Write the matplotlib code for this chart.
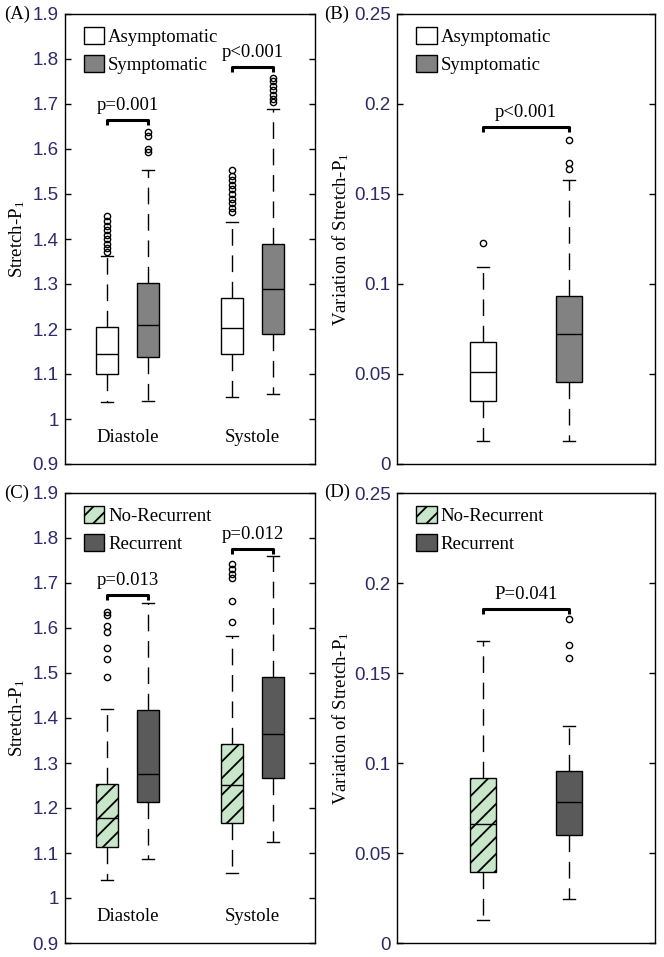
import numpy as np
import matplotlib
matplotlib.use("Agg")
import matplotlib.pyplot as plt
from matplotlib.patches import Patch
from matplotlib.ticker import FormatStrFormatter

plt.rcParams['font.family'] = ['Liberation Serif', 'DejaVu Serif']
plt.rcParams['mathtext.fontset'] = 'stix'
plt.rcParams['hatch.linewidth'] = 1.3

## box statistics (q1, median, q3, lower whisker, upper whisker, outliers)

# (A) stretch, asymptomatic vs symptomatic: Dia-Asym, Dia-Sym, Sys-Asym, Sys-Sym
a_q1 = [1.101, 1.138, 1.144, 1.189]
a_med = [1.144, 1.209, 1.202, 1.288]
a_q3 = [1.205, 1.303, 1.270, 1.389]
a_lo = [1.037, 1.040, 1.050, 1.055]
a_hi = [1.362, 1.553, 1.438, 1.688]
a_fliers = [
    [1.372, 1.38, 1.39, 1.40, 1.41, 1.42, 1.43, 1.44, 1.452],
    [1.594, 1.601, 1.630, 1.637],
    [1.461, 1.47, 1.48, 1.49, 1.50, 1.51, 1.52, 1.53, 1.54, 1.553],
    [1.705, 1.712, 1.72, 1.73, 1.74, 1.75, 1.758],
]

# (B) variation of stretch: Asym, Sym
b_q1 = [0.035, 0.0457]
b_med = [0.0513, 0.072]
b_q3 = [0.068, 0.0933]
b_lo = [0.013, 0.013]
b_hi = [0.1096, 0.158]
b_fliers = [[0.1226], [0.1641, 0.1674, 0.180]]

# (C) stretch, no-recurrent vs recurrent: Dia-NoRec, Dia-Rec, Sys-NoRec, Sys-Rec
c_q1 = [1.113, 1.213, 1.167, 1.267]
c_med = [1.178, 1.276, 1.250, 1.365]
c_q3 = [1.254, 1.417, 1.343, 1.491]
c_lo = [1.041, 1.086, 1.056, 1.124]
c_hi = [1.420, 1.656, 1.583, 1.759]
c_fliers = [
    [1.49, 1.530, 1.556, 1.591, 1.604, 1.628, 1.636],
    [],
    [1.613, 1.66, 1.712, 1.719, 1.732, 1.743],
    [],
]

# (D) variation of stretch: NoRec, Rec
d_q1 = [0.0394, 0.0602]
d_med = [0.0661, 0.0785]
d_q3 = [0.0916, 0.0953]
d_lo = [0.013, 0.0246]
d_hi = [0.168, 0.1207]
d_fliers = [[], [0.1585, 0.1656, 0.1798]]

phases = ["Diastole", "Systole"]
group_ab = ["Asymptomatic", "Symptomatic"]
group_cd = ["No-Recurrent", "Recurrent"]

# significance brackets: (left box index, right box index, bracket height, text)
a_sig = [(0, 1, 1.664, "p=0.001"), (2, 3, 1.783, "p<0.001")]
b_sig = [(0, 1, 0.187, "p<0.001")]
c_sig = [(0, 1, 1.674, "p=0.013"), (2, 3, 1.776, "p=0.012")]
d_sig = [(0, 1, 0.1857, "P=0.041")]

WHITE, GREY, GREEN, DARK = "white", "#828282", "#c8e6c9", "#5a5a5a"
TICK_COLOR = "#2d2a6a"
TXT = 13.5


def make_stats(q1, med, q3, lo, hi, fliers):
    return [dict(q1=q1[i], med=med[i], q3=q3[i], whislo=lo[i], whishi=hi[i],
                 fliers=np.array(fliers[i])) for i in range(len(q1))]


def draw_panel(rect, stats, positions, width, capw, faces, hatches, ylim, yticks,
               xlim, sig, legend_names, ylabel, label_x, phase_y=None):
    ax = fig.add_axes(rect)
    bp = ax.bxp(stats, positions=positions, widths=width, capwidths=capw,
                patch_artist=True, showfliers=True,
                boxprops=dict(linewidth=1.0, edgecolor="black"),
                medianprops=dict(color="black", linewidth=1.0),
                whiskerprops=dict(color="black", linewidth=1.0, linestyle=(0, (12, 7))),
                capprops=dict(color="black", linewidth=1.0),
                flierprops=dict(marker="o", markersize=4.5, markerfacecolor="none",
                                markeredgecolor="black", markeredgewidth=1.0))
    for box, fc, h in zip(bp["boxes"], faces, hatches):
        box.set_facecolor(fc)
        box.set_hatch(h)

    ax.set_xlim(*xlim)
    ax.set_ylim(*ylim)
    ax.set_yticks(yticks)
    ax.yaxis.set_major_formatter(FormatStrFormatter("%g"))
    ax.set_xticks([])
    ax.tick_params(axis="y", direction="in", length=4.5, width=1.0, left=True,
                   right=True, pad=4.5, labelcolor=TICK_COLOR, labelsize=13.5)
    for lbl in ax.get_yticklabels():
        lbl.set_family("Liberation Sans")
    for s in ax.spines.values():
        s.set_linewidth(1.0)

    drop = (ylim[1] - ylim[0]) * 0.011
    for i, j, y, txt in sig:
        xs = [positions[i], positions[i], positions[j], positions[j]]
        ys = [y - drop, y, y, y - drop]
        ax.plot(xs, ys, color="black", linewidth=2.2, solid_capstyle="butt")
        ax.text((positions[i] + positions[j]) / 2, y + drop * 1.2, txt,
                ha="center", va="bottom", fontsize=TXT)

    if phase_y is not None:
        for k, name in enumerate(phases):
            ax.text((positions[2 * k] + positions[2 * k + 1]) / 2, phase_y, name,
                    ha="center", va="center", fontsize=TXT)

    handles = [Patch(facecolor=faces[0], edgecolor="black", hatch=hatches[0], linewidth=1.0),
               Patch(facecolor=faces[1], edgecolor="black", hatch=hatches[1], linewidth=1.0)]
    ax.legend(handles, legend_names, loc="upper left", bbox_to_anchor=(0.075, 0.971),
              frameon=False, fontsize=TXT, handlelength=1.1, handleheight=1.0,
              handletextpad=0.2, labelspacing=0.49, borderpad=0, borderaxespad=0)

    ax.set_ylabel(ylabel, fontsize=TXT)
    ax.yaxis.set_label_coords(label_x, 0.5)
    return ax


fig = plt.figure(figsize=(6.64, 9.57), dpi=100)
W, H = 664.0, 957.0

stretch_ticks = np.round(np.arange(0.9, 1.91, 0.1), 2)
var_ticks = np.round(np.arange(0, 0.251, 0.05), 2)
ylab_s = r"Stretch-P$_\mathregular{1}$"
ylab_v = r"Variation of Stretch-P$_\mathregular{1}$"

draw_panel([65 / W, 1 - 464 / H, 250 / W, 450 / H],
           make_stats(a_q1, a_med, a_q3, a_lo, a_hi, a_fliers),
           [1, 2, 4, 5], 0.53, 0.29, [WHITE, GREY, WHITE, GREY], ["", "", "", ""],
           (0.9, 1.9), stretch_ticks, (0, 6), a_sig, group_ab, ylab_s, -0.15, phase_y=0.958)
draw_panel([397 / W, 1 - 464 / H, 258 / W, 450 / H],
           make_stats(b_q1, b_med, b_q3, b_lo, b_hi, b_fliers),
           [1, 2], 0.31, 0.14, [WHITE, GREY], ["", ""],
           (0, 0.25), var_ticks, (0, 3), b_sig, group_ab, ylab_v, -0.178)
draw_panel([65 / W, 1 - 943 / H, 250 / W, 450 / H],
           make_stats(c_q1, c_med, c_q3, c_lo, c_hi, c_fliers),
           [1, 2, 4, 5], 0.53, 0.29, [GREEN, DARK, GREEN, DARK], ["//", "", "//", ""],
           (0.9, 1.9), stretch_ticks, (0, 6), c_sig, group_cd, ylab_s, -0.15, phase_y=0.958)
draw_panel([397 / W, 1 - 943 / H, 258 / W, 450 / H],
           make_stats(d_q1, d_med, d_q3, d_lo, d_hi, d_fliers),
           [1, 2], 0.31, 0.14, [GREEN, DARK], ["//", ""],
           (0, 0.25), var_ticks, (0, 3), d_sig, group_cd, ylab_v, -0.178)

for lab, x, y in [("(A)", 4, 14), ("(B)", 324, 14), ("(C)", 4, 493), ("(D)", 324, 492)]:
    fig.text(x / W, 1 - y / H, lab, ha="left", va="center", fontsize=TXT)

fig.savefig("out.png", dpi=100)
